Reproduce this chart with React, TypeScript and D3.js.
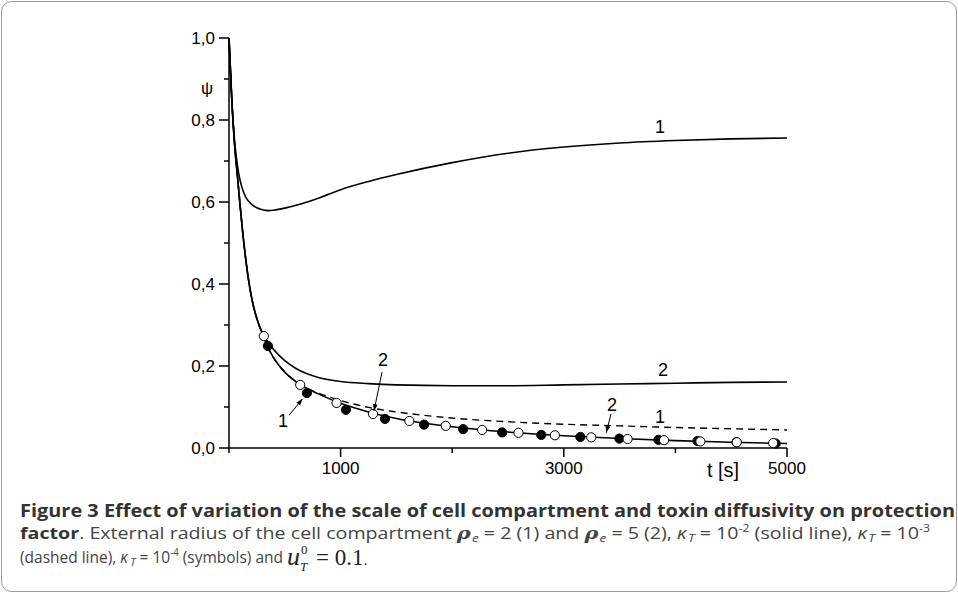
import React from 'react';
import * as d3 from 'd3';

// time grid (s) shared by the computed curves
const times = [0, 25, 50, 75, 100, 125, 150, 200, 250, 300, 350, 400, 500, 600, 700, 800, 1000, 1250, 1500, 2000, 2500, 3000, 3500, 4000, 4500, 5000];

// rho_e = 2, kappa_T = 1e-2 (solid, label 1)
const psiRho2K2 = [1.0, 0.85, 0.75, 0.69, 0.652, 0.628, 0.612, 0.595, 0.586, 0.581, 0.579, 0.58, 0.585, 0.592, 0.6, 0.609, 0.63, 0.65, 0.667, 0.696, 0.719, 0.734, 0.744, 0.75, 0.754, 0.756];
// rho_e = 5, kappa_T = 1e-2 (solid, label 2)
const psiRho5K2 = [1.0, 0.85, 0.74, 0.665, 0.59, 0.52, 0.46, 0.37, 0.315, 0.28, 0.258, 0.24, 0.213, 0.194, 0.181, 0.172, 0.162, 0.157, 0.154, 0.152, 0.152, 0.154, 0.156, 0.158, 0.16, 0.161];
// lower solid curve
const psiLower = [1.0, 0.85, 0.74, 0.665, 0.59, 0.52, 0.46, 0.37, 0.315, 0.278, 0.245, 0.22, 0.185, 0.162, 0.145, 0.132, 0.109, 0.088, 0.072, 0.052, 0.039, 0.03, 0.023, 0.018, 0.014, 0.011];
// kappa_T = 1e-3 (dashed)
const psiDashed = [1.0, 0.85, 0.74, 0.665, 0.59, 0.52, 0.46, 0.37, 0.315, 0.278, 0.245, 0.22, 0.185, 0.162, 0.145, 0.134, 0.116, 0.099, 0.088, 0.073, 0.064, 0.058, 0.054, 0.05, 0.047, 0.044];

// kappa_T = 1e-4 symbols
const filledT = [348, 698, 1048, 1398, 1748, 2098, 2448, 2798, 3148, 3498, 3848, 4198, 4548, 4898];
const filledPsi = [0.249, 0.134, 0.093, 0.071, 0.057, 0.046, 0.038, 0.032, 0.027, 0.023, 0.02, 0.017, 0.014, 0.011];
const openT = [312, 638, 964, 1290, 1616, 1942, 2268, 2594, 2920, 3246, 3572, 3898, 4224, 4550, 4876];
const openPsi = [0.273, 0.154, 0.11, 0.083, 0.066, 0.054, 0.044, 0.037, 0.031, 0.026, 0.022, 0.019, 0.016, 0.014, 0.012];

const xMajor = [1000, 3000, 5000];
const xMinor = [0, 2000, 4000];
const yMajor = [0, 0.2, 0.4, 0.6, 0.8, 1.0];
const yMinor = [0.1, 0.3, 0.5, 0.7, 0.9];

// curve labels in data coordinates
const labels = [
  { text: '1', t: 3862, psi: 0.783 },
  { text: '2', t: 3889, psi: 0.19 },
  { text: '1', t: 3862, psi: 0.076 },
  { text: '2', t: 3432, psi: 0.105 },
  { text: '2', t: 1380, psi: 0.215 },
  { text: '1', t: 484, psi: 0.066 },
];
const arrows = [
  { t0: 3423, p0: 0.083, t1: 3380, p1: 0.037 },
  { t0: 1371, p0: 0.185, t1: 1299, p1: 0.09 },
  { t0: 538, p0: 0.08, t1: 660, p1: 0.12 },
];

const sans = '"Liberation Sans", Arial, sans-serif';
const capFont = '"Open Sans", "Noto Sans", sans-serif';
const serif = "'Liberation Serif', serif";

export default function App() {
  const x = d3.scaleLinear().domain([0, 5000]).range([229, 787]);
  const y = d3.scaleLinear().domain([0, 1]).range([448, 38]);
  const line = d3
    .line<number>()
    .x((_, i) => x(times[i]))
    .y((d) => y(d))
    .curve(d3.curveMonotoneX);

  const fmt = (v: number) => v.toFixed(1).replace('.', ',');

  return (
    <svg width={958} height={593} style={{ position: 'absolute', left: 0, top: 0, background: '#fff' }}>
      <defs>
        <marker id="ah" viewBox="0 0 10 10" refX="10" refY="5" markerWidth="7" markerHeight="7" orient="auto">
          <path d="M0,1.5 L10,5 L0,8.5 z" fill="#000" />
        </marker>
      </defs>
      <rect x={1.5} y={1.5} width={955} height={590} rx={10} fill="none" stroke="#999" strokeWidth={1} />

      {/* axes */}
      <line x1={x(0)} x2={x(0)} y1={y(1)} y2={y(0)} stroke="#000" strokeWidth={1.5} />
      <line x1={x(0)} x2={x(5000)} y1={y(0)} y2={y(0)} stroke="#000" strokeWidth={1.5} />
      {yMajor.map((v) => (
        <g key={'ym' + v}>
          <line x1={x(0) - 10} x2={x(0)} y1={y(v)} y2={y(v)} stroke="#000" strokeWidth={1.5} />
          <text x={x(0) - 14} y={y(v)} dy="0.35em" textAnchor="end" fontFamily={sans} fontSize={17}>
            {fmt(v)}
          </text>
        </g>
      ))}
      {yMinor.map((v) => (
        <line key={'yn' + v} x1={x(0) - 5} x2={x(0)} y1={y(v)} y2={y(v)} stroke="#000" strokeWidth={1.5} />
      ))}
      {xMajor.map((v) => (
        <g key={'xm' + v}>
          <line x1={x(v)} x2={x(v)} y1={y(0)} y2={y(0) + 9} stroke="#000" strokeWidth={1.5} />
          <text x={x(v)} y={y(0) + 26} textAnchor="middle" fontFamily={sans} fontSize={17}>
            {v}
          </text>
        </g>
      ))}
      {xMinor.map((v) => (
        <line key={'xn' + v} x1={x(v)} x2={x(v)} y1={y(0)} y2={y(0) + 5} stroke="#000" strokeWidth={1.5} />
      ))}
      <text x={207} y={88} dy="0.35em" textAnchor="middle" fontFamily={sans} fontSize={17}>ψ</text>
      <text x={723} y={477} textAnchor="middle" fontFamily={sans} fontSize={20}>t [s]</text>

      {/* curves */}
      <path d={line(psiRho2K2) || ''} fill="none" stroke="#000" strokeWidth={1.6} />
      <path d={line(psiRho5K2) || ''} fill="none" stroke="#000" strokeWidth={1.6} />
      <path d={line(psiLower) || ''} fill="none" stroke="#000" strokeWidth={1.6} />
      <path d={line(psiDashed) || ''} fill="none" stroke="#000" strokeWidth={1.4} strokeDasharray="7 5" />

      {filledT.map((t, i) => (
        <circle key={'f' + i} cx={x(t)} cy={y(filledPsi[i])} r={4.6} fill="#000" stroke="#000" strokeWidth={1} />
      ))}
      {openT.map((t, i) => (
        <circle key={'o' + i} cx={x(t)} cy={y(openPsi[i])} r={4.6} fill="#fff" stroke="#000" strokeWidth={1} />
      ))}

      {labels.map((l, i) => (
        <text key={'l' + i} x={x(l.t)} y={y(l.psi)} dy="0.35em" textAnchor="middle" fontFamily={sans} fontSize={18}>
          {l.text}
        </text>
      ))}
      {arrows.map((a, i) => (
        <line key={'a' + i} x1={x(a.t0)} y1={y(a.p0)} x2={x(a.t1)} y2={y(a.p1)} stroke="#000" strokeWidth={1} markerEnd="url(#ah)" />
      ))}

      {/* caption */}
      <text x={20} y={517} fontFamily={capFont} fontWeight="bold" fontSize={17} fill="#333" textLength={935} lengthAdjust="spacingAndGlyphs">
        Figure 3 Effect of variation of the scale of cell compartment and toxin diffusivity on protection
      </text>
      <text x={20} y={539} fontFamily={capFont} fontSize={16} fill="#444" textLength={910} lengthAdjust="spacingAndGlyphs">
        <tspan fontWeight="bold" fill="#333">factor</tspan>
        <tspan>. External radius of the cell compartment </tspan>
        <tspan fontStyle="italic" fontWeight="bold" fontFamily="'DejaVu Serif', serif" fontSize={17}>ρ</tspan>
        <tspan fontStyle="italic" fontSize={11} dx={1} dy={3}>e</tspan>
        <tspan dy={-3}> = 2 (1) and </tspan>
        <tspan fontStyle="italic" fontWeight="bold" fontFamily="'DejaVu Serif', serif" fontSize={17}>ρ</tspan>
        <tspan fontStyle="italic" fontSize={11} dx={1} dy={3}>e</tspan>
        <tspan dy={-3}> = 5 (2), </tspan>
        <tspan fontStyle="italic">κ</tspan>
        <tspan fontStyle="italic" fontSize={11} dx={1} dy={3}>T</tspan>
        <tspan dy={-3}> = 10</tspan>
        <tspan fontSize={10} dy={-7}>-2</tspan>
        <tspan dy={7}> (solid line), </tspan>
        <tspan fontStyle="italic">κ</tspan>
        <tspan fontStyle="italic" fontSize={11} dx={1} dy={3}>T</tspan>
        <tspan dy={-3}> = 10</tspan>
        <tspan fontSize={10} dy={-7}>-3</tspan>
      </text>
      <text x={20} y={563} fontFamily={capFont} fontSize={16} fill="#444" textLength={263} lengthAdjust="spacingAndGlyphs">
        <tspan>(dashed line), </tspan>
        <tspan fontStyle="italic">κ</tspan>
        <tspan fontStyle="italic" fontSize={11} dx={2.5} dy={3}>T</tspan>
        <tspan dy={-3}> = 10</tspan>
        <tspan fontSize={10} dy={-7}>-4</tspan>
        <tspan dy={7}> (symbols) and</tspan>
      </text>
      <text x={287} y={565} fontFamily={serif} fill="#222">
        <tspan fontStyle="italic" fontSize={26}>u</tspan>
        <tspan x={301} dy={-11} fontSize={13}>0</tspan>
        <tspan x={300} dy={17} fontStyle="italic" fontSize={13}>T</tspan>
        <tspan x={316} dy={-6} fontSize={23}>= 0.1</tspan>
        <tspan fontFamily={capFont} fontSize={16} fill="#444">.</tspan>
      </text>
    </svg>
  );
}
